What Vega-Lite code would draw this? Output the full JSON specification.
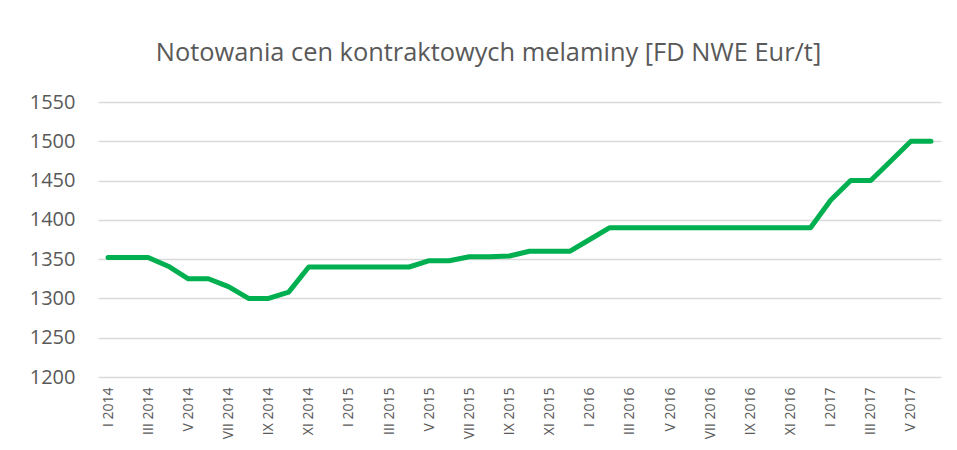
{
  "$schema": "https://vega.github.io/schema/vega-lite/v6.json",
  "width": 843,
  "height": 275,
  "autosize": {"type": "none"},
  "padding": {"left": 98, "top": 102, "right": 16, "bottom": 73},
  "background": "white",
  "title": {
    "text": "Notowania cen kontraktowych melaminy [FD NWE Eur/t]",
    "font": "Open Sans",
    "fontSize": 25.4,
    "fontWeight": "normal",
    "color": "#595959",
    "anchor": "middle",
    "frame": "group",
    "dx": -31,
    "baseline": "alphabetic",
    "offset": 6
  },
  "data": {
    "values": [
      {"miesiac": "I 2014", "cena": 1352},
      {"miesiac": "II 2014", "cena": 1352},
      {"miesiac": "III 2014", "cena": 1352},
      {"miesiac": "IV 2014", "cena": 1341},
      {"miesiac": "V 2014", "cena": 1325},
      {"miesiac": "VI 2014", "cena": 1325},
      {"miesiac": "VII 2014", "cena": 1315},
      {"miesiac": "VIII 2014", "cena": 1300},
      {"miesiac": "IX 2014", "cena": 1300},
      {"miesiac": "X 2014", "cena": 1308},
      {"miesiac": "XI 2014", "cena": 1340},
      {"miesiac": "XII 2014", "cena": 1340},
      {"miesiac": "I 2015", "cena": 1340},
      {"miesiac": "II 2015", "cena": 1340},
      {"miesiac": "III 2015", "cena": 1340},
      {"miesiac": "IV 2015", "cena": 1340},
      {"miesiac": "V 2015", "cena": 1348},
      {"miesiac": "VI 2015", "cena": 1348},
      {"miesiac": "VII 2015", "cena": 1353},
      {"miesiac": "VIII 2015", "cena": 1353},
      {"miesiac": "IX 2015", "cena": 1354},
      {"miesiac": "X 2015", "cena": 1360},
      {"miesiac": "XI 2015", "cena": 1360},
      {"miesiac": "XII 2015", "cena": 1360},
      {"miesiac": "I 2016", "cena": 1375},
      {"miesiac": "II 2016", "cena": 1390},
      {"miesiac": "III 2016", "cena": 1390},
      {"miesiac": "IV 2016", "cena": 1390},
      {"miesiac": "V 2016", "cena": 1390},
      {"miesiac": "VI 2016", "cena": 1390},
      {"miesiac": "VII 2016", "cena": 1390},
      {"miesiac": "VIII 2016", "cena": 1390},
      {"miesiac": "IX 2016", "cena": 1390},
      {"miesiac": "X 2016", "cena": 1390},
      {"miesiac": "XI 2016", "cena": 1390},
      {"miesiac": "XII 2016", "cena": 1390},
      {"miesiac": "I 2017", "cena": 1425},
      {"miesiac": "II 2017", "cena": 1450},
      {"miesiac": "III 2017", "cena": 1450},
      {"miesiac": "IV 2017", "cena": 1475},
      {"miesiac": "V 2017", "cena": 1500},
      {"miesiac": "VI 2017", "cena": 1500}
    ]
  },
  "mark": {"type": "line", "color": "#00B050", "strokeWidth": 5, "strokeCap": "round", "strokeJoin": "round"},
  "encoding": {
    "x": {
      "field": "miesiac",
      "type": "ordinal",
      "sort": null,
      "scale": {"type": "point", "padding": 0.5},
      "axis": {
        "title": null,
        "values": ["I 2014", "III 2014", "V 2014", "VII 2014", "IX 2014", "XI 2014", "I 2015", "III 2015", "V 2015", "VII 2015", "IX 2015", "XI 2015", "I 2016", "III 2016", "V 2016", "VII 2016", "IX 2016", "XI 2016", "I 2017", "III 2017", "V 2017"],
        "labelAngle": -90,
        "labelAlign": "right",
        "labelBaseline": "middle",
        "labelFont": "Open Sans",
        "labelFontSize": 14,
        "labelColor": "#595959",
        "labelPadding": 10,
        "ticks": false,
        "domain": false,
        "grid": false
      }
    },
    "y": {
      "field": "cena",
      "type": "quantitative",
      "scale": {"domain": [1200, 1550], "nice": false, "zero": false},
      "axis": {
        "title": null,
        "format": "d",
        "values": [1200, 1250, 1300, 1350, 1400, 1450, 1500, 1550],
        "labelFont": "Open Sans",
        "labelFontSize": 20,
        "labelColor": "#595959",
        "labelPadding": 23,
        "ticks": false,
        "domain": false,
        "gridColor": "#D9D9D9",
        "gridWidth": 1.3
      }
    }
  },
  "config": {"view": {"stroke": null}}
}
